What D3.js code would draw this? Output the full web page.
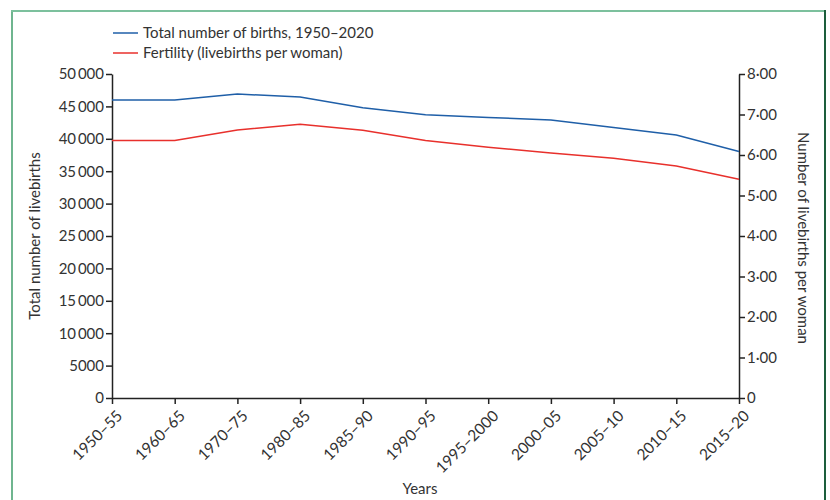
<!DOCTYPE html>
<html><head><meta charset="utf-8">
<script src="https://cdn.jsdelivr.net/npm/d3@7"></script>
<style>
body{margin:0;background:#fff;}
svg{display:block;font-family:Lato,"Noto Sans",sans-serif;}
</style></head>
<body><svg id="c" width="830" height="500"></svg>
<script>
const periods = ["1950–55","1960–65","1970–75","1980–85","1985–90","1990–95","1995–2000","2000–05","2005–10","2010–15","2015–20"];
const births = [46000,46000,46900,46450,44800,43700,43300,42900,41750,40600,38050];
const fertility = [6.36,6.36,6.62,6.76,6.61,6.36,6.19,6.05,5.92,5.73,5.40];
const leftTicks = [0,5000,10000,15000,20000,25000,30000,35000,40000,45000,50000];
const rightTicks = [0,1,2,3,4,5,6,7,8];
const legendLabels = ["Total number of births, 1950–2020","Fertility (livebirths per woman)"];
const colors = ["#1f5fa8","#e8302c"];

const svg = d3.select("#c");
const m = {l:112, r:739, t:74, b:398};
const textColor = "#333";
const fs = "15px";
const fsX = "15.5px";

// frame
svg.append("line").attr("x1",12).attr("x2",12).attr("y1",10).attr("y2",500).attr("stroke","#6fb58f").attr("stroke-width",2);
svg.append("line").attr("x1",11).attr("x2",826).attr("y1",11).attr("y2",11).attr("stroke","#7cc09d").attr("stroke-width",2);
svg.append("line").attr("x1",825).attr("x2",825).attr("y1",10).attr("y2",500).attr("stroke","#1d5e3c").attr("stroke-width",2);

const x = d3.scalePoint().domain(periods).range([m.l,m.r]);
const yL = d3.scaleLinear().domain([0,50000]).range([m.b,m.t]);
const yR = d3.scaleLinear().domain([0,8]).range([m.b,m.t]);

const fmtL = d => d >= 10000 ? d3.format("d")(d).replace(/(\d+)(\d{3})$/,"$1\u2009$2") : String(d);
const fmtR = d => d === 0 ? "0" : d3.format(".2f")(d).replace(".","\u00b7");

function styleAxis(g, size){
  g.selectAll(".domain").attr("stroke","#222").attr("stroke-width",1.5);
  g.selectAll(".tick line").attr("stroke","#222").attr("stroke-width",1.5);
  g.selectAll(".tick text").attr("fill",textColor).style("font-size",size).style("font-family","Lato, 'Noto Sans', sans-serif");
}

const gL = svg.append("g").attr("transform",`translate(${m.l},0)`)
  .call(d3.axisLeft(yL).tickValues(leftTicks).tickFormat(fmtL).tickSize(6).tickPadding(2).tickSizeOuter(0));
styleAxis(gL, fs);
const gR = svg.append("g").attr("transform",`translate(${m.r},0)`)
  .call(d3.axisRight(yR).tickValues(rightTicks).tickFormat(fmtR).tickSize(6).tickPadding(2).tickSizeOuter(0));
styleAxis(gR, fs);
const gB = svg.append("g").attr("transform",`translate(0,${m.b})`)
  .call(d3.axisBottom(x).tickSize(6).tickSizeOuter(0));
styleAxis(gB, fsX);
gB.selectAll(".tick text").attr("text-anchor","end").attr("x",0).attr("y",0).attr("dy","0.35em")
  .attr("transform","translate(7,15) rotate(-45)");

// lines
svg.append("path").datum(births).attr("fill","none").attr("stroke",colors[0]).attr("stroke-width",1.5)
  .attr("d", d3.line().x((d,i)=>x(periods[i])).y(d=>yL(d)));
svg.append("path").datum(fertility).attr("fill","none").attr("stroke",colors[1]).attr("stroke-width",1.5)
  .attr("d", d3.line().x((d,i)=>x(periods[i])).y(d=>yR(d)));

// axis titles
svg.append("text").attr("transform","translate(40,236) rotate(-90)").attr("text-anchor","middle")
  .attr("fill",textColor).style("font-size",fs).text("Total number of livebirths");
svg.append("text").attr("transform","translate(798,238) rotate(90)").attr("text-anchor","middle")
  .attr("fill",textColor).style("font-size",fs).text("Number of livebirths per woman");
svg.append("text").attr("x",420).attr("y",494).attr("text-anchor","middle")
  .attr("fill",textColor).style("font-size",fs).text("Years");

// legend
legendLabels.forEach((t,i)=>{
  const yy = 33 + i*20;
  svg.append("line").attr("x1",113).attr("x2",138).attr("y1",yy).attr("y2",yy).attr("stroke",colors[i]).attr("stroke-width",1.5);
  svg.append("text").attr("x",143).attr("y",yy).attr("dy","0.35em").attr("fill",textColor).style("font-size",fs).text(t);
});
</script></body></html>
